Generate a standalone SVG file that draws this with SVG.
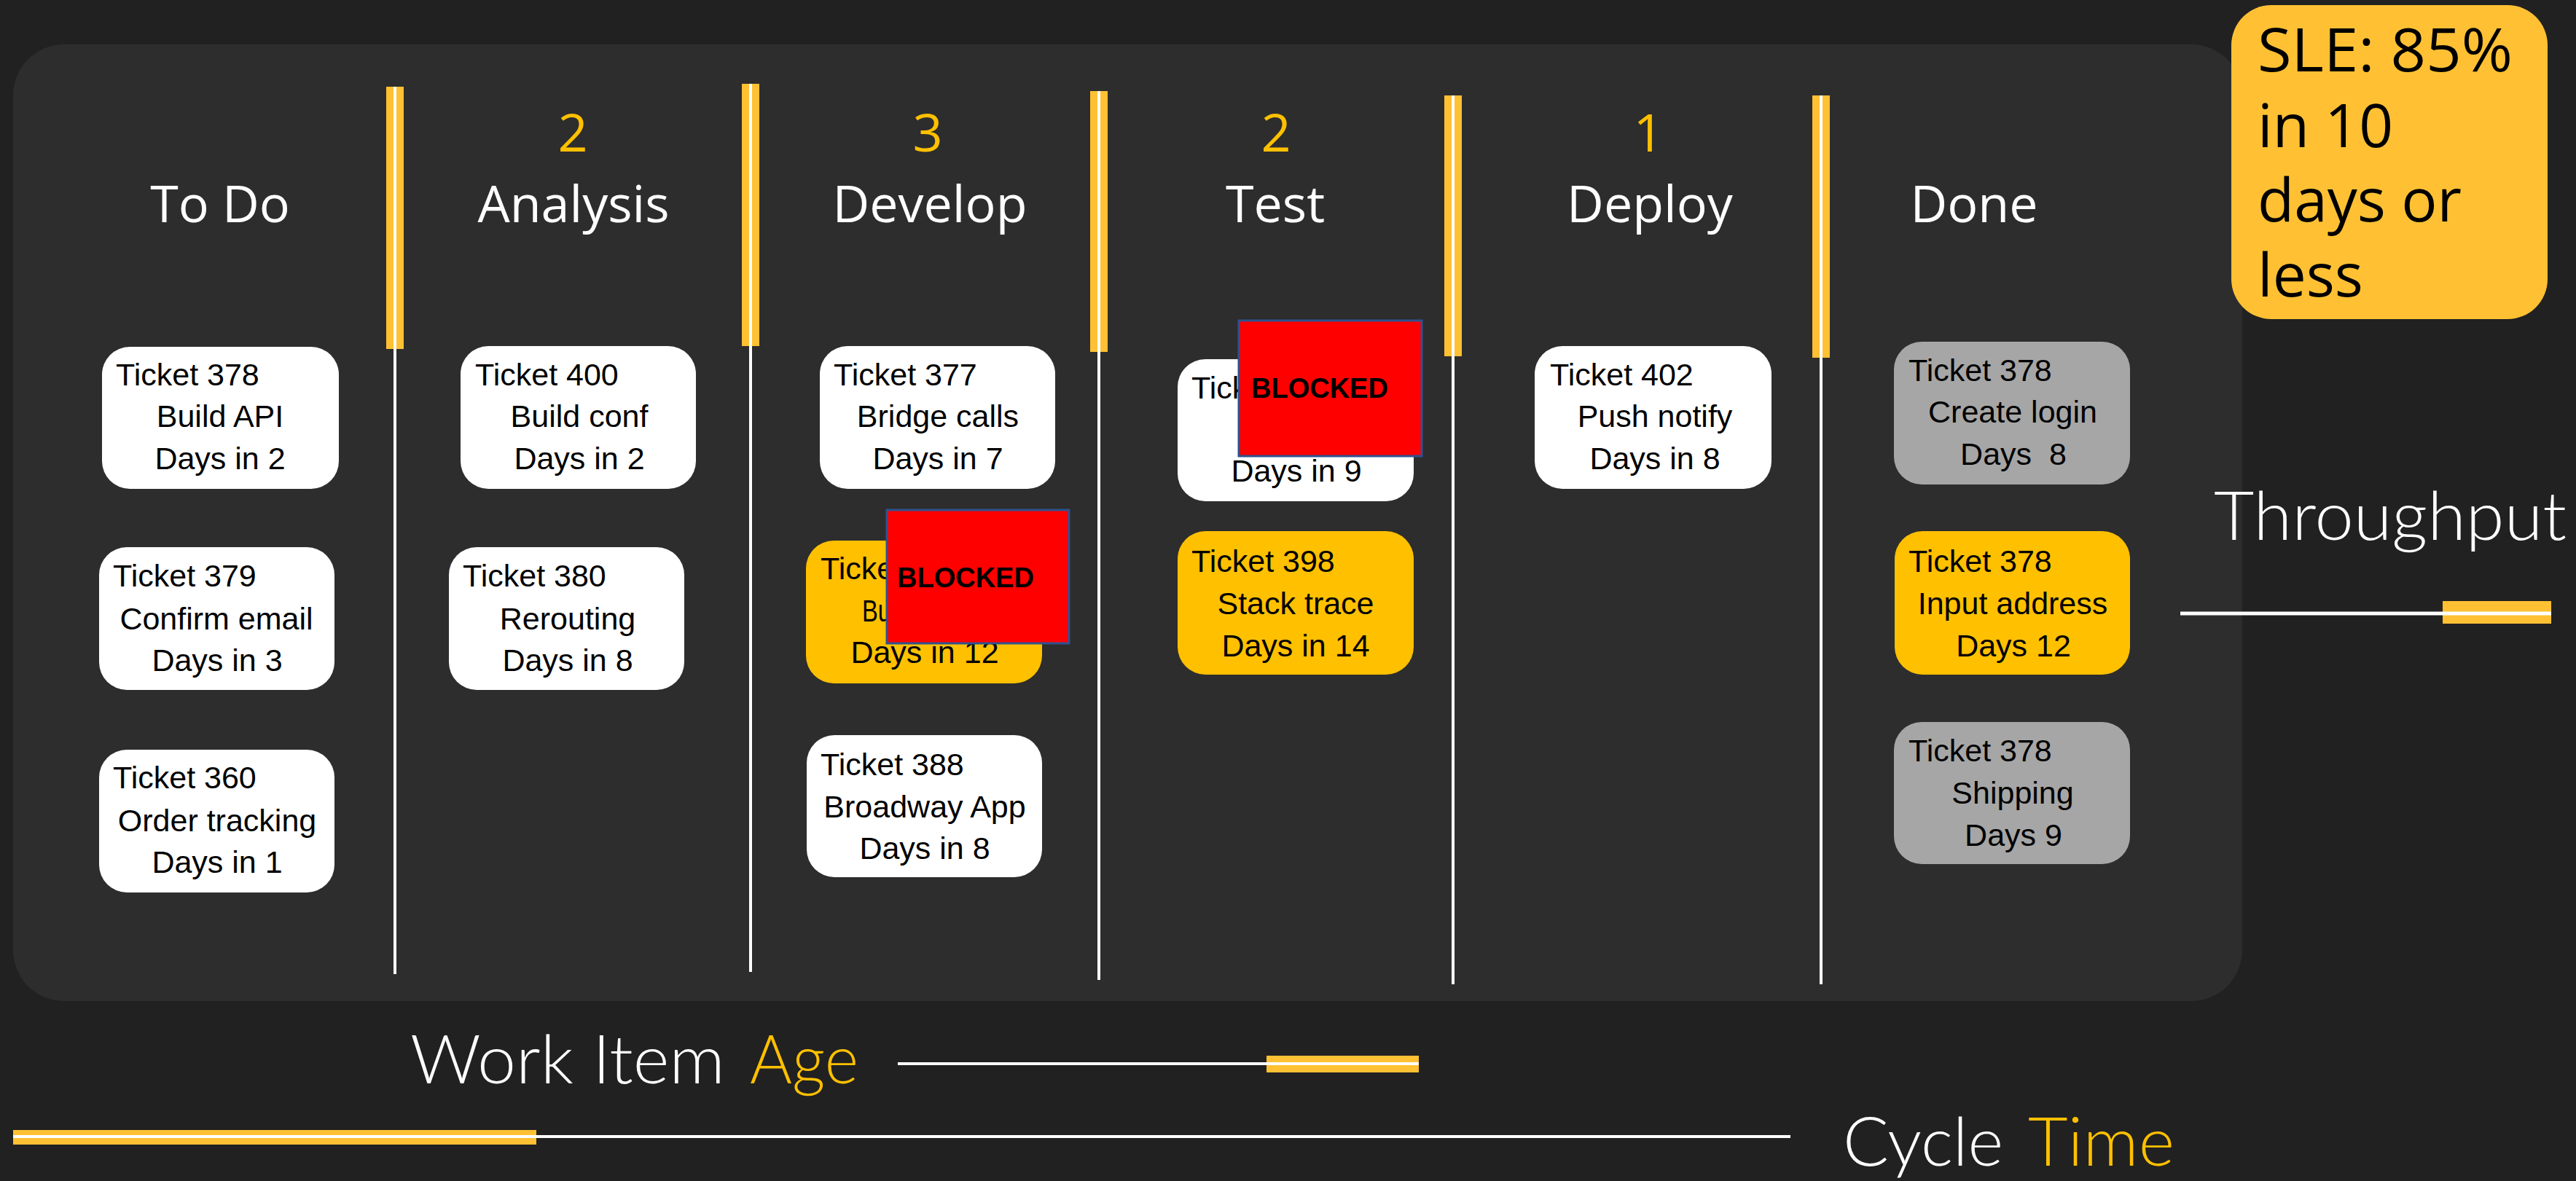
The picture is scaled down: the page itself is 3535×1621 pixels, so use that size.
<svg xmlns="http://www.w3.org/2000/svg" width="3535" height="1621" viewBox="0 0 3535 1621">
<style>
.card text{font-family:"Liberation Sans",Arial,sans-serif;font-size:43px;fill:#000}
.m{text-anchor:middle}
.white{fill:#fff}
.yel{fill:#FFC000}
.grey{fill:#A6A6A6}
.hdr{font-family:"Open Sans","Liberation Sans",sans-serif;font-size:70px;fill:#fff;text-anchor:middle}
.num{font-family:"Open Sans","Liberation Sans",sans-serif;font-size:72px;fill:#FFC000;text-anchor:middle}
.blk rect{fill:#FF0000;stroke:#2F528F;stroke-width:3}
.blk text{font-family:"Liberation Sans",Arial,sans-serif;font-weight:bold;font-size:38px;fill:#000}
.bar{fill:#FFC133}
.wl{stroke:#fff;fill:none}
.lbl{font-family:Lato,"Open Sans",sans-serif;font-weight:300;font-size:92px}
.sle{font-family:"Open Sans","Liberation Sans",sans-serif;font-size:82px;fill:#000}
</style>
<rect width="3535" height="1621" fill="#212121"/>
<rect x="18" y="61" width="3059" height="1313" rx="70" fill="#2D2D2D"/>

<g id="headers">
<text class="hdr" x="302" y="305">To Do</text>
<text class="num" x="786" y="208">2</text>
<text class="hdr" x="787" y="305">Analysis</text>
<text class="num" x="1273" y="208">3</text>
<text class="hdr" x="1276" y="305">Develop</text>
<text class="num" x="1751" y="208">2</text>
<text class="hdr" x="1750" y="305">Test</text>
<text class="num" x="2262" y="208">1</text>
<text class="hdr" x="2264" y="305">Deploy</text>
<text class="hdr" x="2709" y="305">Done</text>
</g>

<g id="connectors">
<g id="dividers">
<rect class="bar" x="530" y="119" width="24" height="360"/><line class="wl" x1="542" y1="119" x2="542" y2="1337" stroke-width="4"/>
<rect class="bar" x="1018" y="115" width="24" height="360"/><line class="wl" x1="1030" y1="115" x2="1030" y2="1334" stroke-width="4"/>
<rect class="bar" x="1496" y="125" width="24" height="358"/><line class="wl" x1="1508" y1="125" x2="1508" y2="1345" stroke-width="4"/>
<rect class="bar" x="1982" y="131" width="24" height="358"/><line class="wl" x1="1994" y1="131" x2="1994" y2="1351" stroke-width="4"/>
<rect class="bar" x="2487" y="131" width="24" height="360"/><line class="wl" x1="2499" y1="131" x2="2499" y2="1351" stroke-width="4"/>
</g>
<g id="metric-lines">
<rect class="bar" x="1738" y="1449" width="209" height="23"/>
<line class="wl" x1="1232" y1="1460" x2="1947" y2="1460" stroke-width="4"/>
<rect class="bar" x="18" y="1551" width="718" height="20"/>
<line class="wl" x1="18" y1="1560" x2="2457" y2="1560" stroke-width="4"/>
<rect class="bar" x="3352" y="825" width="149" height="31"/>
<line class="wl" x1="2992" y1="842" x2="3501" y2="842" stroke-width="5"/>
</g>
</g>

<g id="t378-todo" class="card"><rect class="white" x="140" y="476" width="325" height="195" rx="38"/>
<text x="159" y="529">Ticket 378</text><text class="m" x="302" y="586">Build API</text><text class="m" x="302" y="644">Days in 2</text></g>
<g id="t379" class="card"><rect class="white" x="136" y="751" width="323" height="196" rx="38"/>
<text x="155" y="805">Ticket 379</text><text class="m" x="297" y="864">Confirm email</text><text class="m" x="298" y="921">Days in 3</text></g>
<g id="t360" class="card"><rect class="white" x="136" y="1029" width="323" height="196" rx="38"/>
<text x="155" y="1082">Ticket 360</text><text class="m" x="298" y="1141">Order tracking</text><text class="m" x="298" y="1198">Days in 1</text></g>

<g id="t400" class="card"><rect class="white" x="632" y="475" width="323" height="196" rx="38"/>
<text x="652" y="529">Ticket 400</text><text class="m" x="795" y="586">Build conf</text><text class="m" x="795" y="644">Days in 2</text></g>
<g id="t380" class="card"><rect class="white" x="616" y="751" width="323" height="196" rx="38"/>
<text x="635" y="805">Ticket 380</text><text class="m" x="779" y="864">Rerouting</text><text class="m" x="779" y="921">Days in 8</text></g>

<g id="t377" class="card"><rect class="white" x="1125" y="475" width="323" height="196" rx="38"/>
<text x="1144" y="529">Ticket 377</text><text class="m" x="1287" y="586">Bridge calls</text><text class="m" x="1287" y="644">Days in 7</text></g>
<g id="t-dev-blocked" class="card"><rect class="yel" x="1106" y="742" width="324" height="196" rx="38"/>
<text x="1126" y="795">Ticke</text><text x="1183" y="853" textLength="40" lengthAdjust="spacingAndGlyphs">Bu</text><text class="m" x="1269" y="910">Days in 12</text></g>
<g id="blocked-dev" class="blk"><rect x="1217" y="700" width="250" height="183"/><text x="1231" y="806">BLOCKED</text></g>
<g id="t388" class="card"><rect class="white" x="1107" y="1009" width="323" height="195" rx="38"/>
<text x="1126" y="1064">Ticket 388</text><text class="m" x="1269" y="1122">Broadway App</text><text class="m" x="1269" y="1179">Days in 8</text></g>

<g id="t-test-blocked" class="card"><rect class="white" x="1616" y="493" width="324" height="195" rx="38"/>
<text x="1635" y="547">Tick</text><text class="m" x="1779" y="661">Days in 9</text></g>
<g id="blocked-test" class="blk"><rect x="1700" y="440" width="251" height="186"/><text x="1717" y="546">BLOCKED</text></g>
<g id="t398" class="card"><rect class="yel" x="1616" y="729" width="324" height="197" rx="38"/>
<text x="1635" y="785">Ticket 398</text><text class="m" x="1778" y="843">Stack trace</text><text class="m" x="1778" y="901">Days in 14</text></g>

<g id="t402" class="card"><rect class="white" x="2106" y="475" width="325" height="196" rx="38"/>
<text x="2127" y="529">Ticket 402</text><text class="m" x="2271" y="586">Push notify</text><text class="m" x="2271" y="644">Days in 8</text></g>

<g id="done-login" class="card"><rect class="grey" x="2599" y="469" width="324" height="196" rx="38"/>
<text x="2619" y="523">Ticket 378</text><text class="m" x="2762" y="580">Create login</text><text class="m" x="2763" y="638" xml:space="preserve" style="white-space:pre">Days  8</text></g>
<g id="done-address" class="card"><rect class="yel" x="2600" y="729" width="323" height="197" rx="38"/>
<text x="2619" y="785">Ticket 378</text><text class="m" x="2762" y="843">Input address</text><text class="m" x="2763" y="901">Days 12</text></g>
<g id="done-shipping" class="card"><rect class="grey" x="2599" y="991" width="324" height="195" rx="38"/>
<text x="2619" y="1045">Ticket 378</text><text class="m" x="2762" y="1103">Shipping</text><text class="m" x="2763" y="1161">Days 9</text></g>

<g id="sle"><rect x="3062" y="7" width="434" height="431" rx="55" fill="#FFC133"/>
<text class="sle" x="3098" y="98" textLength="350" lengthAdjust="spacingAndGlyphs">SLE: 85%</text>
<text class="sle" x="3098" y="202">in 10</text>
<text class="sle" x="3098" y="304">days or</text>
<text class="sle" x="3098" y="407">less</text></g>

<g id="labels">
<text class="lbl" x="563" y="1487" fill="#fff" textLength="432" lengthAdjust="spacingAndGlyphs">Work Item</text>
<text class="lbl" x="1029" y="1487" fill="#FFC000" textLength="149" lengthAdjust="spacingAndGlyphs">Age</text>
<text class="lbl" x="2529" y="1600" fill="#fff" textLength="220" lengthAdjust="spacingAndGlyphs">Cycle</text>
<text class="lbl" x="2783" y="1600" fill="#FFC000" textLength="201" lengthAdjust="spacingAndGlyphs">Time</text>
<text class="lbl" x="3038" y="741" fill="#fff" textLength="484" lengthAdjust="spacingAndGlyphs">Throughput</text>
</g>
</svg>
